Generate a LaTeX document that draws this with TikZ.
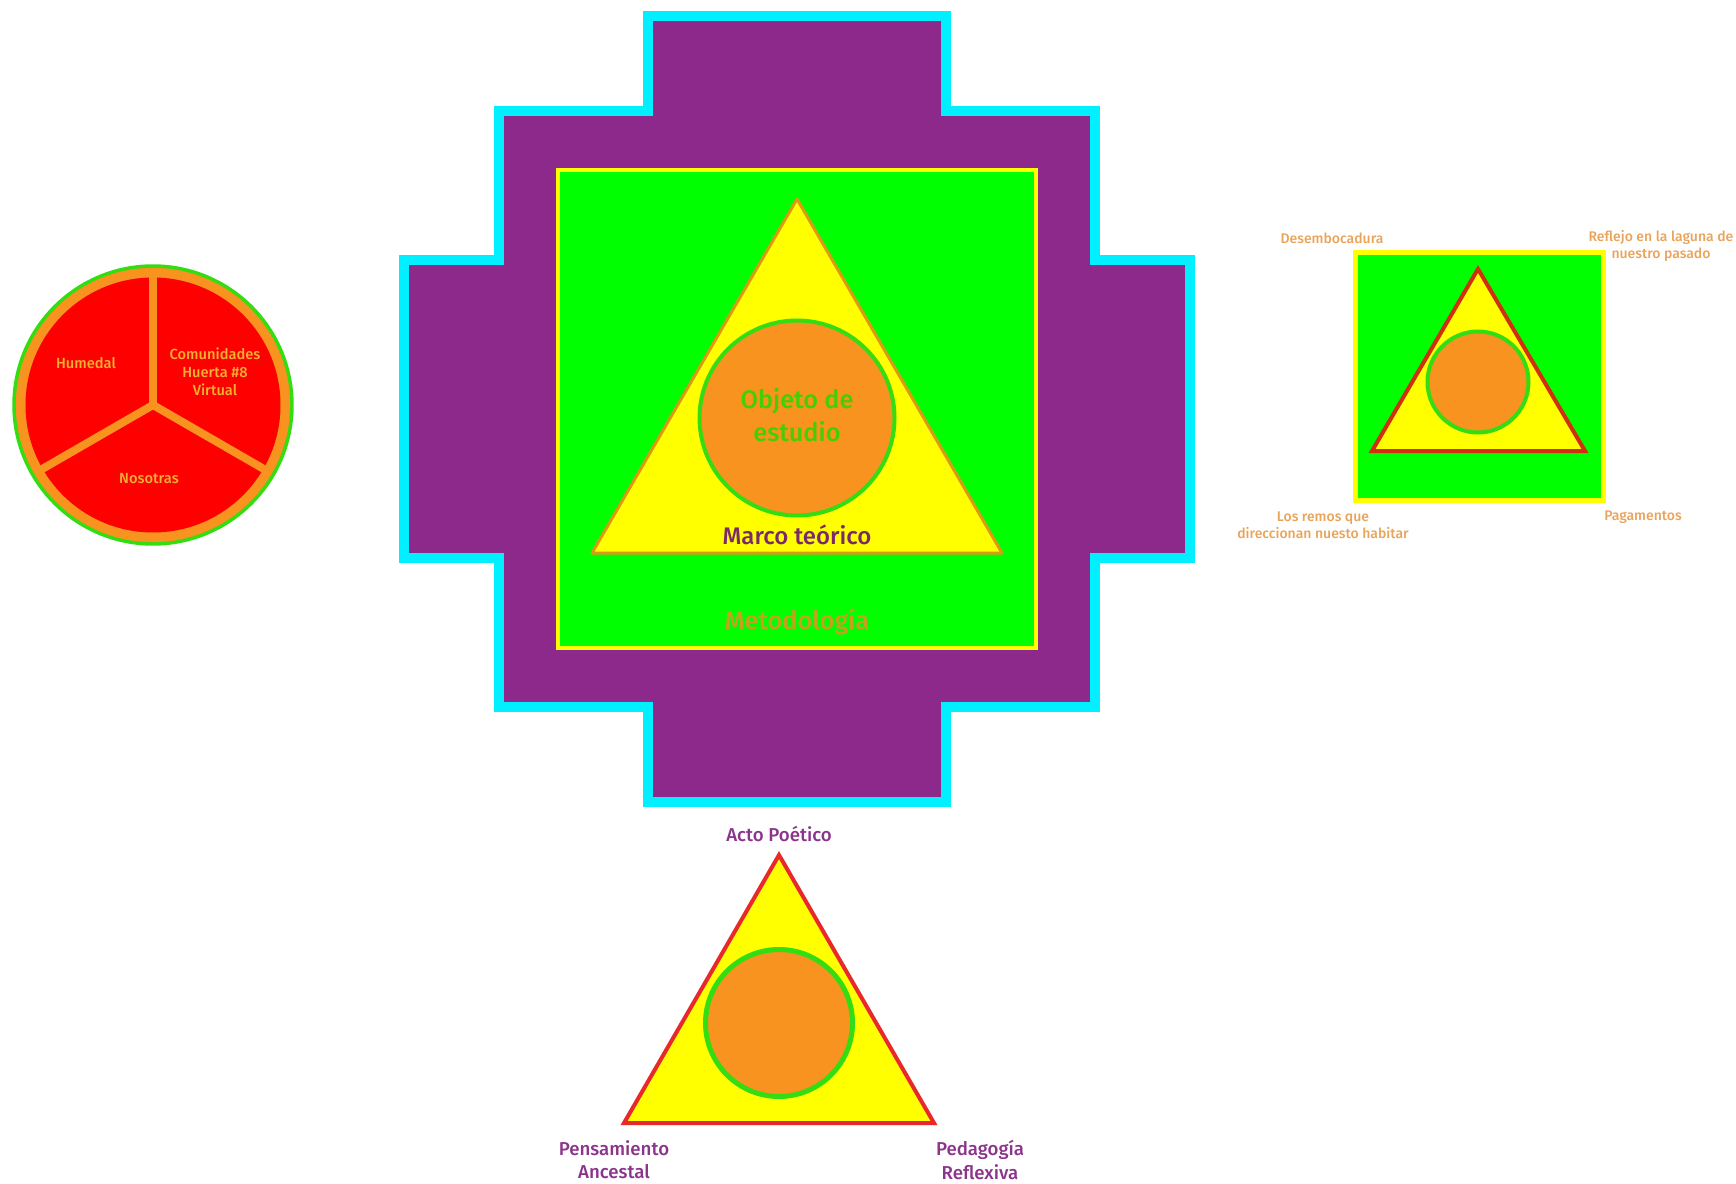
\documentclass[tikz,border=0pt]{standalone}
\usepackage{fontspec}
\setmainfont{Fira Sans Medium}
\usepackage{tikz}
\usetikzlibrary{positioning,calc}
\definecolor{chak}{HTML}{8E298C}
\definecolor{cyanl}{HTML}{00F0FF}
\definecolor{verde}{HTML}{00FF00}
\definecolor{amar}{HTML}{FFFF00}
\definecolor{naran}{HTML}{F7931E}
\definecolor{rojo}{HTML}{FF0000}
\definecolor{bordeO}{HTML}{DC9A14}
\definecolor{bordeR}{HTML}{D0300F}
\definecolor{bordeRb}{HTML}{E8282A}
\definecolor{anillo}{HTML}{33DD11}
\definecolor{txtM}{HTML}{7A2A66}
\definecolor{txtP}{HTML}{8B348B}
\definecolor{txtO}{HTML}{E9A45A}
\definecolor{txtY}{HTML}{F5AF32}
\definecolor{txtG}{HTML}{44D000}
\definecolor{txtMet}{HTML}{C8A020}
\tikzset{
  lbl/.style={align=center, inner sep=1pt},
  lblS/.style={lbl, font=\fontsize{10.5}{12.5}\selectfont, text=txtO},
  lblC/.style={lbl, font=\fontsize{11}{13.5}\selectfont, text=txtY},
  lblB/.style={lbl, font=\fontsize{14}{17.5}\selectfont, text=txtP},
  lblM/.style={lbl, font=\fontsize{19}{25}\selectfont},
  ring/.style={draw=anillo, fill=naran},
}

\begin{document}
\begin{tikzpicture}[x=0.75pt, y=-0.75pt]
  \useasboundingbox (0,0) rectangle (1736,1184);

  % rueda
  \coordinate (rc) at (153,405);
  \draw[anillo, line width=2.6pt, fill=naran] (rc) circle (139);
  \fill[rojo] (rc) circle (127.5);
  \foreach \a in {270,150,30}
    \draw[naran, line width=6pt] (rc) -- ++(\a:131);
  \node[lblC] (hum) at (86,363) {Humedal};
  \node[lblC] (com) at (215,372) {Comunidades\\Huerta \#8\\Virtual};
  \node[lblC] (nos) at (149,479) {Nosotras};

  % chakana
  \draw[cyanl, line width=7.5pt, fill=chak]
    (648,16) -- (946,16) -- (946,111) -- (1095,111) -- (1095,260) -- (1190,260)
    -- (1190,558) -- (1095,558) -- (1095,707) -- (946,707) -- (946,802)
    -- (648,802) -- (648,707) -- (499,707) -- (499,558) -- (404,558)
    -- (404,260) -- (499,260) -- (499,111) -- (648,111) -- cycle;
  \draw[amar, line width=3pt, fill=verde] (558,170) rectangle (1036,648);
  \draw[bordeO, line width=2.25pt, fill=amar, line join=round]
    (797,199) -- (1002,553) -- (592,553) -- cycle;
  \draw[ring, line width=3pt] (797,418) circle (97.5);
  \node[lblM, text=txtG] (obj) at (797,415) {Objeto de\\estudio};
  \node[lblM, font=\fontsize{18}{22}\selectfont, text=txtM] (mar) at (797,535) {Marco teórico};
  \node[lblM, text=txtMet] (met) at (797,622) {Metodología};

  % cuadro derecho
  \draw[amar, line width=3.75pt, fill=verde] (1355,253) rectangle (1603,500);
  \draw[bordeR, line width=3pt, fill=amar] (1478,269) -- (1585,451) -- (1372,451) -- cycle;
  \draw[ring, line width=3pt] (1478,382) circle (50.5);
  \node[lblS] (des) at (1332,238) {Desembocadura};
  \node[lblS] (ref) at (1661,246) {Reflejo en la laguna de\\nuestro pasado};
  \node[lblS] (rem) at (1323,525) {Los remos que\\direccionan nuesto habitar};
  \node[lblS] (pag) at (1643,517) {Pagamentos};

  % triangulo inferior
  \draw[bordeRb, line width=3pt, fill=amar] (779,855) -- (934,1123) -- (624,1123) -- cycle;
  \draw[ring, line width=3.75pt] (779,1023) circle (73.5);
  \node[lblB] (act) at (779,834) {Acto Poético};
  \node[lblB] (pen) at (614,1160) {Pensamiento\\Ancestal};
  \node[lblB] (ped) at (980,1160) {Pedagogía\\Reflexiva};
\end{tikzpicture}
\end{document}
